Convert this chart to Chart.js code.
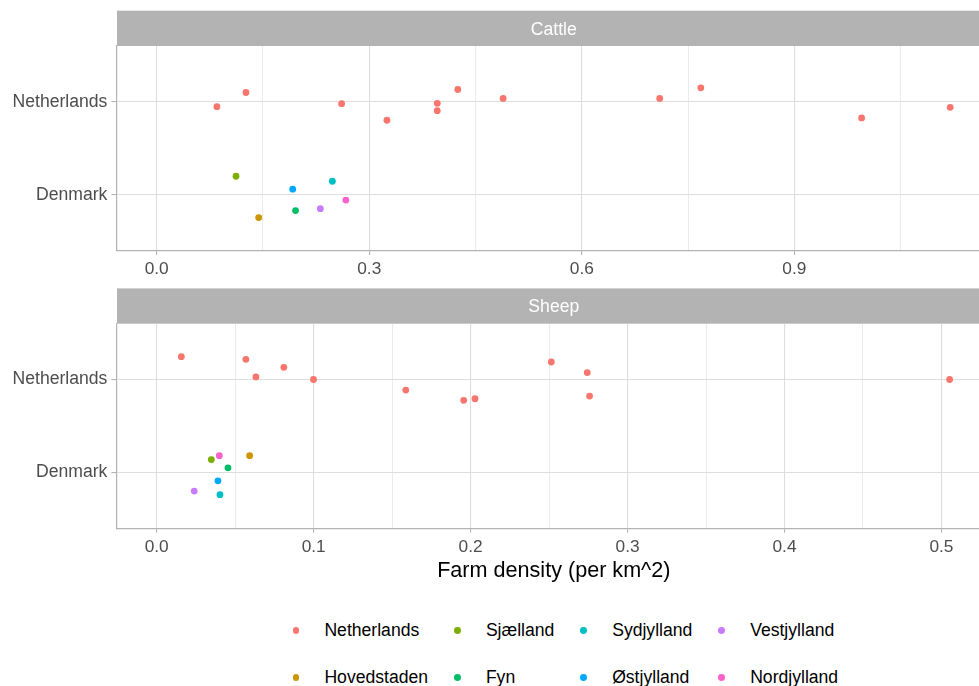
<!DOCTYPE html>
<html>
<head>
<meta charset="utf-8">
<script src="https://cdn.jsdelivr.net/npm/chart.js@4.4.1/dist/chart.umd.min.js"></script>
<style>
  body { margin: 0; background: #fff; }
  #wrap { position: relative; width: 979px; height: 686px; overflow: hidden; font-family: "Liberation Sans", Arial, sans-serif; }
  #box1 { position: absolute; left: 0; top: 0; }
  #box2 { position: absolute; left: 0; top: 280px; }
  #legend { position: absolute; left: 292.6px; top: 618.7px; display: grid; grid-template-columns: repeat(4, auto); column-gap: 26px; row-gap: 22.6px; }
  .item { display: flex; align-items: center; height: 24px; font-size: 17.6px; color: #000; white-space: nowrap; }
  .dot { width: 6.8px; height: 6.8px; border-radius: 50%; margin-right: 25px; flex: none; }
</style>
</head>
<body>
<div id="wrap">
  <canvas id="box1" width="994" height="290"></canvas>
  <canvas id="box2" width="994" height="320"></canvas>
  <div id="legend"></div>
</div>
<script>
// countries on the y axis (Denmark = 1, Netherlands = 2)
const countries = ['Denmark', 'Netherlands'];

// legend order (row by row) and region colours
const legendOrder = ['Netherlands', 'Sjælland', 'Sydjylland', 'Vestjylland',
                     'Hovedstaden', 'Fyn', 'Østjylland', 'Nordjylland'];
const danishRegions = ['Hovedstaden', 'Sjælland', 'Fyn', 'Sydjylland', 'Østjylland', 'Vestjylland', 'Nordjylland'];
const regionColors = {
  'Netherlands': '#F8766D',
  'Hovedstaden': '#CD9600',
  'Sjælland': '#7CAE00',
  'Fyn': '#00BE67',
  'Sydjylland': '#00BFC4',
  'Østjylland': '#00A9FF',
  'Vestjylland': '#C77CFF',
  'Nordjylland': '#FF61CC'
};

// Cattle - farm density, Dutch provinces + jitter
const cattleNL = [0.085, 0.126, 0.261, 0.325, 0.396, 0.396, 0.425, 0.489, 0.710, 0.768, 0.995, 1.120];
const cattleNLJitter = [-0.053, 0.100, -0.021, -0.199, -0.017, -0.096, 0.132, 0.036, 0.036, 0.150, -0.174, -0.060];
// Cattle - Danish regions (same order as danishRegions)
const cattleDK = [0.144, 0.112, 0.196, 0.248, 0.192, 0.231, 0.267];
const cattleDKJitter = [-0.246, 0.199, -0.171, 0.145, 0.060, -0.150, -0.058];

// Sheep
const sheepNL = [0.0157, 0.0568, 0.0632, 0.081, 0.0999, 0.1587, 0.1956, 0.2028, 0.2514, 0.2743, 0.2758, 0.5052];
const sheepNLJitter = [0.245, 0.217, 0.028, 0.131, 0.0, -0.114, -0.224, -0.207, 0.188, 0.075, -0.178, 0.0];
const sheepDK = [0.0592, 0.0348, 0.0454, 0.0403, 0.039, 0.0239, 0.0399];
const sheepDKJitter = [0.181, 0.139, 0.050, -0.238, -0.089, -0.200, 0.181];

// x ticks
const cattleMajor = [0, 0.3, 0.6, 0.9];
const cattleMinor = [0.15, 0.45, 0.75, 1.05];
const sheepMajor = [0, 0.1, 0.2, 0.3, 0.4, 0.5];
const sheepMinor = [0.05, 0.15, 0.25, 0.35, 0.45];

const FONT = '"Liberation Sans", Arial, sans-serif';
const GRID = '#DEDEDE';
const BORDER = '#B3B3B3';
const TEXT = '#4D4D4D';

const stripPlugin = {
  id: 'strip',
  beforeDraw(chart, args, opts) {
    const { ctx, chartArea } = chart;
    ctx.save();
    ctx.fillStyle = BORDER;
    ctx.fillRect(chartArea.left, chartArea.top - opts.height, chartArea.right - chartArea.left, opts.height);
    ctx.fillStyle = '#fff';
    ctx.font = '17.6px ' + FONT;
    ctx.textAlign = 'center';
    ctx.textBaseline = 'middle';
    ctx.fillText(opts.text, (chartArea.left + chartArea.right) / 2, chartArea.top - opts.height / 2 + 1.5);
    ctx.restore();
  }
};

function buildDatasets(nlX, nlJ, dkX, dkJ) {
  const sets = [{
    label: 'Netherlands',
    data: nlX.map((v, i) => ({ x: v, y: 2 + nlJ[i] })),
    backgroundColor: regionColors['Netherlands']
  }];
  danishRegions.forEach((r, i) => {
    sets.push({
      label: r,
      data: [{ x: dkX[i], y: 1 + dkJ[i] }],
      backgroundColor: regionColors[r]
    });
  });
  return sets;
}

function makeChart(id, opts) {
  const ctx = document.getElementById(id).getContext('2d');
  return new Chart(ctx, {
    type: 'scatter',
    data: { datasets: buildDatasets(opts.nlX, opts.nlJ, opts.dkX, opts.dkJ) },
    options: {
      responsive: false,
      animation: false,
      layout: { padding: { top: opts.top, left: 0, right: 0, bottom: 0 } },
      elements: { point: { radius: 3.4, borderWidth: 0, hoverRadius: 3.4 } },
      plugins: {
        legend: { display: false },
        tooltip: { enabled: false },
        strip: { text: opts.strip, height: 35.3 }
      },
      scales: {
        x: {
          type: 'linear',
          min: opts.xMin,
          max: opts.xMax,
          afterBuildTicks: scale => {
            scale.ticks = opts.major.map(v => ({ value: v, major: true }))
              .concat(opts.minor.map(v => ({ value: v, major: false })))
              .sort((a, b) => a.value - b.value);
          },
          afterFit: scale => { scale.height = opts.xHeight; },
          ticks: {
            autoSkip: false,
            maxRotation: 0,
            padding: 3.7,
            color: TEXT,
            font: { family: FONT, size: 17.3 },
            callback: function(value, index, ticks) {
              return ticks[index].major ? value.toFixed(1) : '';
            }
          },
          grid: {
            color: GRID,
            lineWidth: c => (c.tick && c.tick.major ? 1.1 : 0.6),
            tickLength: 4.5,
            tickColor: c => (c.tick && c.tick.major ? BORDER : 'rgba(0,0,0,0)'),
            tickWidth: 1.1
          },
          border: { color: BORDER, width: 1.2 },
          title: opts.title ? {
            display: true,
            text: opts.title,
            color: '#000',
            font: { family: FONT, size: 21.6 },
            padding: { top: 0, bottom: 16 }
          } : { display: false }
        },
        y: {
          type: 'linear',
          min: 0.4,
          max: 2.6,
          afterBuildTicks: scale => {
            scale.ticks = countries.map((c, i) => ({ value: i + 1 }));
          },
          afterFit: scale => { scale.width = 117; },
          ticks: {
            autoSkip: false,
            padding: 4,
            color: TEXT,
            font: { family: FONT, size: 17.6 },
            callback: value => countries[Math.round(value) - 1] || ''
          },
          grid: { color: GRID, lineWidth: 1.1, tickLength: 5.6, tickColor: BORDER, tickWidth: 1.1 },
          border: { color: BORDER, width: 1.2 }
        }
      }
    },
    plugins: [stripPlugin]
  });
}

makeChart('box1', {
  strip: 'Cattle', top: 46, xHeight: 39.5,
  nlX: cattleNL, nlJ: cattleNLJitter, dkX: cattleDK, dkJ: cattleDKJitter,
  xMin: -0.056, xMax: 1.177, major: cattleMajor, minor: cattleMinor
});

makeChart('box2', {
  strip: 'Sheep', top: 43.7, xHeight: 71.7,
  nlX: sheepNL, nlJ: sheepNLJitter, dkX: sheepDK, dkJ: sheepDKJitter,
  xMin: -0.0253, xMax: 0.5313, major: sheepMajor, minor: sheepMinor,
  title: 'Farm density (per km^2)'
});

// legend
const legend = document.getElementById('legend');
legendOrder.forEach(name => {
  const item = document.createElement('div');
  item.className = 'item';
  const dot = document.createElement('span');
  dot.className = 'dot';
  dot.style.background = regionColors[name];
  item.appendChild(dot);
  item.appendChild(document.createTextNode(name));
  legend.appendChild(item);
});
</script>
</body>
</html>
